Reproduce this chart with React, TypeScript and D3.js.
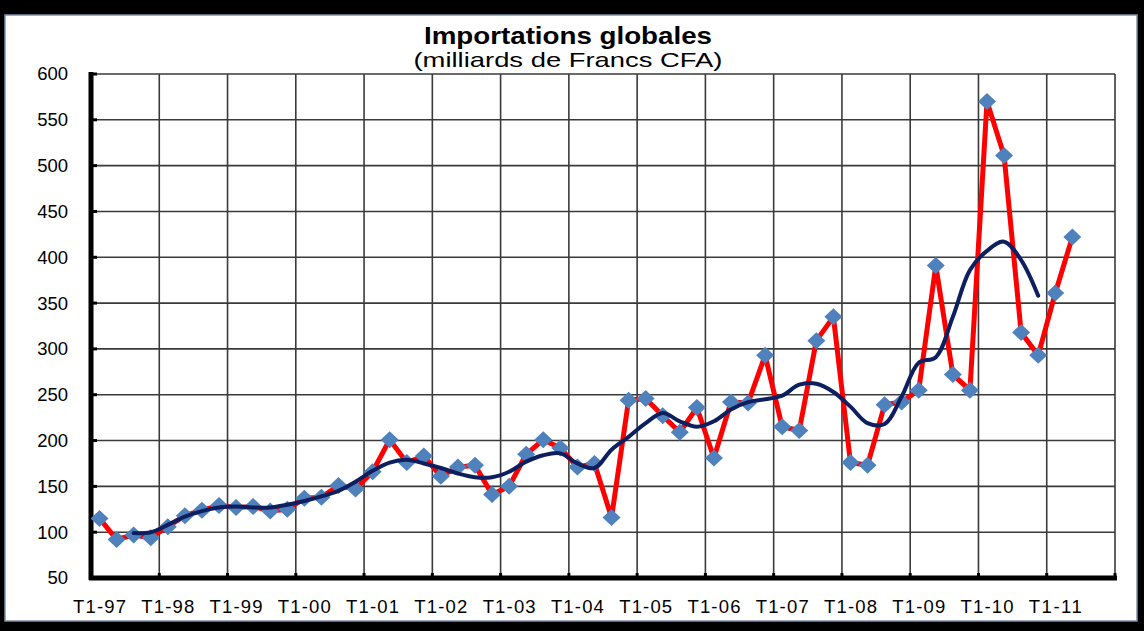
import React from "react";
import * as d3 from "d3";

const years = ["97", "98", "99", "00", "01", "02", "03", "04", "05", "06", "07", "08", "09", "10", "11"];
const quarterNames = ["T1", "T2", "T3", "T4"];
const categories: string[] = years.flatMap((y) => quarterNames.map((q) => `${q}-${y}`));

const imports: number[] = [
  115, 92, 97, 94, 106, 118, 124, 129, 127, 128, 123, 125, 137, 138, 151, 147,
  166, 201, 176, 183, 161, 171, 173, 141, 150, 185, 201, 192, 171, 175, 116, 244,
  246, 227, 209, 236, 181, 242, 241, 293, 215, 211, 309, 335, 176, 173, 239, 242,
  255, 391, 272, 255, 570, 511, 318, 293, 361, 422,
];

const trend: (number | null)[] = [
  null, null, 99, 100, 108, 117, 123, 127, 128, 127, 127, 130, 134, 139, 145, 155,
  167, 176, 179, 175, 170, 164, 160, 160, 166, 177, 184, 186, 175, 170, 190, 204,
  219, 230, 221, 215, 221, 234, 242, 245, 249, 261, 262, 253, 237, 219, 218, 248,
  285, 291, 335, 386, 407, 417, 397, 358,
];

const yTicks: number[] = [50, 100, 150, 200, 250, 300, 350, 400, 450, 500, 550, 600];
const xTickLabels: string[] = categories.filter((_, i) => i % 4 === 0);

const W = 1144;
const H = 631;
const plot = { left: 91, right: 1115, top: 74, bottom: 578 };
const FONT = "'Liberation Sans', Arial, sans-serif";

export default function App() {
  const x = d3.scaleBand<string>().domain(categories).range([plot.left, plot.right]).padding(0);
  const y = d3.scaleLinear().domain([50, 600]).range([plot.bottom, plot.top]);
  const cx = (i: number) => (x(categories[i]) as number) + x.bandwidth() / 2;

  const redLine = d3
    .line<number>()
    .x((_, i) => cx(i))
    .y((d) => y(d))(imports) as string;

  const trendLine = d3
    .line<number | null>()
    .defined((d) => d !== null)
    .x((_, i) => cx(i))
    .y((d) => y(d as number))
    .curve(d3.curveCatmullRom.alpha(0.5))(trend) as string;

  const gridXs = categories
    .map((c, i) => ({ c, i }))
    .filter(({ i }) => i % 4 === 0 && i > 0)
    .map(({ c }) => x(c) as number)
    .concat([plot.right]);

  const diamond = (px: number, py: number) =>
    `M${px},${py - 8.5} L${px + 9},${py} L${px},${py + 8.5} L${px - 9},${py} Z`;

  return (
    <svg
      width={W}
      height={H}
      style={{ position: "absolute", left: 0, top: 0, background: "#000" }}
    >
      <rect x={0} y={0} width={W} height={H} fill="#000" />
      <rect x={5} y={15} width={1132} height={606} fill="#fff" stroke="#7f8fa8" strokeWidth={1.5} />

      <text x={568} y={44} textAnchor="middle" fontFamily={FONT} fontWeight="bold" fontSize={24}
        textLength={288} lengthAdjust="spacingAndGlyphs" fill="#000">
        Importations globales
      </text>
      <text x={568} y={67} textAnchor="middle" fontFamily={FONT} fontSize={21}
        textLength={309} lengthAdjust="spacingAndGlyphs" fill="#000">
        (milliards de Francs CFA)
      </text>

      {/* horizontal grid */}
      {yTicks.filter((t) => t > 50).map((t) => (
        <line key={`h${t}`} x1={plot.left} x2={plot.right} y1={y(t)} y2={y(t)} stroke="#3a3a3a" strokeWidth={1.6} />
      ))}
      {/* vertical grid */}
      {gridXs.map((gx, k) => (
        <line key={`v${k}`} x1={gx} x2={gx} y1={plot.top} y2={plot.bottom} stroke="#3a3a3a" strokeWidth={1.6} />
      ))}

      {/* axes */}
      <line x1={plot.left} x2={plot.left} y1={plot.top - 2} y2={plot.bottom + 2} stroke="#000" strokeWidth={5} />
      <line x1={plot.left - 2} x2={plot.right + 2} y1={plot.bottom} y2={plot.bottom} stroke="#000" strokeWidth={5} />
      {yTicks.map((t) => (
        <line key={`yt${t}`} x1={plot.left} x2={plot.left + 6} y1={y(t)} y2={y(t)} stroke="#000" strokeWidth={3} />
      ))}
      {gridXs.map((gx, k) => (
        <line key={`xt${k}`} x1={gx} x2={gx} y1={plot.bottom - 5} y2={plot.bottom} stroke="#000" strokeWidth={3} />
      ))}

      {yTicks.map((t) => (
        <text key={`yl${t}`} x={68} y={y(t)} dy="0.35em" textAnchor="end" fontFamily={FONT} fontSize={18.5} fill="#000">
          {t}
        </text>
      ))}
      {xTickLabels.map((lab) => (
        <text key={`xl${lab}`} x={(x(lab) as number) + x.bandwidth() / 2} y={613} textAnchor="middle"
          fontFamily={FONT} fontSize={18.5} textLength={53} lengthAdjust="spacing" fill="#000">
          {lab}
        </text>
      ))}

      <path d={redLine} fill="none" stroke="#ff0000" strokeWidth={5} strokeLinejoin="round" />
      {imports.map((v, i) => (
        <path key={`m${i}`} d={diamond(cx(i), y(v))} fill="#4f81bd" />
      ))}
      <path d={trendLine} fill="none" stroke="#0d1f5e" strokeWidth={4} strokeLinejoin="round" strokeLinecap="round" />
    </svg>
  );
}
